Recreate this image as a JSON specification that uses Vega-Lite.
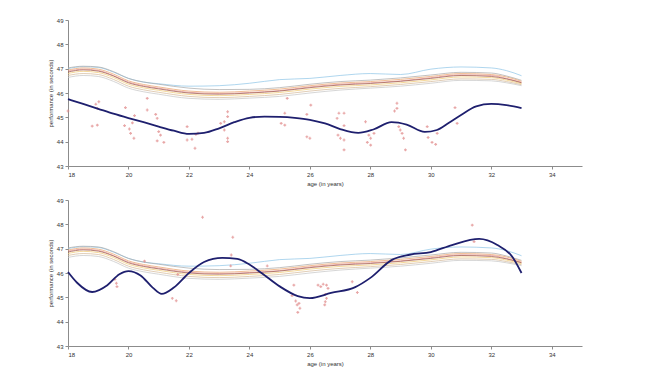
{
  "$schema": "https://vega.github.io/schema/vega-lite/v6.json",
  "background": "white",
  "padding": {"left": 47, "top": 17, "right": 5, "bottom": 5},
  "bounds": "flush",
  "spacing": 34,
  "datasets": {
    "band": [
      {"curve":"L","age":18,"val":47.0},{"curve":"L","age":18.5,"val":47.08},{"curve":"L","age":19,"val":47.05},{"curve":"L","age":19.5,"val":46.86},{"curve":"L","age":20,"val":46.6},{"curve":"L","age":20.5,"val":46.45},{"curve":"L","age":21,"val":46.38},{"curve":"L","age":22,"val":46.28},{"curve":"L","age":23,"val":46.3},{"curve":"L","age":24,"val":46.4},{"curve":"L","age":25,"val":46.55},{"curve":"L","age":26,"val":46.6},{"curve":"L","age":27,"val":46.72},{"curve":"L","age":28,"val":46.8},{"curve":"L","age":29,"val":46.76},{"curve":"L","age":30,"val":46.98},{"curve":"L","age":31,"val":47.07},{"curve":"L","age":32,"val":47.03},{"curve":"L","age":32.5,"val":46.92},{"curve":"L","age":33,"val":46.71},
      {"curve":"A","age":18,"val":47.03},{"curve":"A","age":18.5,"val":47.1},{"curve":"A","age":19,"val":47.07},{"curve":"A","age":19.5,"val":46.88},{"curve":"A","age":20,"val":46.6},{"curve":"A","age":20.5,"val":46.45},{"curve":"A","age":21,"val":46.36},{"curve":"A","age":22,"val":46.2},{"curve":"A","age":23,"val":46.14},{"curve":"A","age":24,"val":46.15},{"curve":"A","age":25,"val":46.22},{"curve":"A","age":26,"val":46.36},{"curve":"A","age":27,"val":46.47},{"curve":"A","age":28,"val":46.53},{"curve":"A","age":29,"val":46.62},{"curve":"A","age":30,"val":46.74},{"curve":"A","age":31,"val":46.85},{"curve":"A","age":32,"val":46.82},{"curve":"A","age":32.5,"val":46.7},{"curve":"A","age":33,"val":46.52},
      {"curve":"B","age":18,"val":46.94},{"curve":"B","age":18.5,"val":47.03},{"curve":"B","age":19,"val":46.98},{"curve":"B","age":19.5,"val":46.78},{"curve":"B","age":20,"val":46.5},{"curve":"B","age":20.5,"val":46.35},{"curve":"B","age":21,"val":46.25},{"curve":"B","age":22,"val":46.08},{"curve":"B","age":23,"val":46.03},{"curve":"B","age":24,"val":46.08},{"curve":"B","age":25,"val":46.16},{"curve":"B","age":26,"val":46.3},{"curve":"B","age":27,"val":46.41},{"curve":"B","age":28,"val":46.47},{"curve":"B","age":29,"val":46.56},{"curve":"B","age":30,"val":46.68},{"curve":"B","age":31,"val":46.8},{"curve":"B","age":32,"val":46.76},{"curve":"B","age":32.5,"val":46.66},{"curve":"B","age":33,"val":46.48},
      {"curve":"E","age":18,"val":46.8},{"curve":"E","age":18.5,"val":46.89},{"curve":"E","age":19,"val":46.84},{"curve":"E","age":19.5,"val":46.64},{"curve":"E","age":20,"val":46.36},{"curve":"E","age":20.5,"val":46.21},{"curve":"E","age":21,"val":46.11},{"curve":"E","age":22,"val":45.94},{"curve":"E","age":23,"val":45.89},{"curve":"E","age":24,"val":45.94},{"curve":"E","age":25,"val":46.02},{"curve":"E","age":26,"val":46.16},{"curve":"E","age":27,"val":46.27},{"curve":"E","age":28,"val":46.33},{"curve":"E","age":29,"val":46.42},{"curve":"E","age":30,"val":46.54},{"curve":"E","age":31,"val":46.66},{"curve":"E","age":32,"val":46.63},{"curve":"E","age":32.5,"val":46.53},{"curve":"E","age":33,"val":46.38},
      {"curve":"F","age":18,"val":46.9},{"curve":"F","age":18.5,"val":46.98},{"curve":"F","age":19,"val":46.93},{"curve":"F","age":19.5,"val":46.72},{"curve":"F","age":20,"val":46.45},{"curve":"F","age":20.5,"val":46.3},{"curve":"F","age":21,"val":46.2},{"curve":"F","age":22,"val":46.03},{"curve":"F","age":23,"val":45.98},{"curve":"F","age":24,"val":46.02},{"curve":"F","age":25,"val":46.1},{"curve":"F","age":26,"val":46.25},{"curve":"F","age":27,"val":46.36},{"curve":"F","age":28,"val":46.42},{"curve":"F","age":29,"val":46.5},{"curve":"F","age":30,"val":46.63},{"curve":"F","age":31,"val":46.75},{"curve":"F","age":32,"val":46.72},{"curve":"F","age":32.5,"val":46.6},{"curve":"F","age":33,"val":46.44},
      {"curve":"G","age":18,"val":46.72},{"curve":"G","age":18.5,"val":46.8},{"curve":"G","age":19,"val":46.76},{"curve":"G","age":19.5,"val":46.56},{"curve":"G","age":20,"val":46.28},{"curve":"G","age":20.5,"val":46.13},{"curve":"G","age":21,"val":46.03},{"curve":"G","age":22,"val":45.86},{"curve":"G","age":23,"val":45.81},{"curve":"G","age":24,"val":45.86},{"curve":"G","age":25,"val":45.94},{"curve":"G","age":26,"val":46.08},{"curve":"G","age":27,"val":46.19},{"curve":"G","age":28,"val":46.26},{"curve":"G","age":29,"val":46.35},{"curve":"G","age":30,"val":46.47},{"curve":"G","age":31,"val":46.58},{"curve":"G","age":32,"val":46.56},{"curve":"G","age":32.5,"val":46.47},{"curve":"G","age":33,"val":46.34},
      {"curve":"H","age":18,"val":46.64},{"curve":"H","age":18.5,"val":46.72},{"curve":"H","age":19,"val":46.68},{"curve":"H","age":19.5,"val":46.48},{"curve":"H","age":20,"val":46.2},{"curve":"H","age":20.5,"val":46.05},{"curve":"H","age":21,"val":45.95},{"curve":"H","age":22,"val":45.78},{"curve":"H","age":23,"val":45.74},{"curve":"H","age":24,"val":45.79},{"curve":"H","age":25,"val":45.86},{"curve":"H","age":26,"val":46.0},{"curve":"H","age":27,"val":46.12},{"curve":"H","age":28,"val":46.2},{"curve":"H","age":29,"val":46.28},{"curve":"H","age":30,"val":46.4},{"curve":"H","age":31,"val":46.52},{"curve":"H","age":32,"val":46.5},{"curve":"H","age":32.5,"val":46.42},{"curve":"H","age":33,"val":46.3},
      {"curve":"D","age":18,"val":46.86},{"curve":"D","age":18.5,"val":46.95},{"curve":"D","age":19,"val":46.9},{"curve":"D","age":19.5,"val":46.7},{"curve":"D","age":20,"val":46.42},{"curve":"D","age":20.5,"val":46.27},{"curve":"D","age":21,"val":46.17},{"curve":"D","age":22,"val":46.0},{"curve":"D","age":23,"val":45.95},{"curve":"D","age":24,"val":46.0},{"curve":"D","age":25,"val":46.08},{"curve":"D","age":26,"val":46.22},{"curve":"D","age":27,"val":46.33},{"curve":"D","age":28,"val":46.39},{"curve":"D","age":29,"val":46.48},{"curve":"D","age":30,"val":46.6},{"curve":"D","age":31,"val":46.72},{"curve":"D","age":32,"val":46.68},{"curve":"D","age":32.5,"val":46.58},{"curve":"D","age":33,"val":46.42}
    ],
    "navy": [
      {"panel":1,"age":18,"val":45.75},{"panel":1,"age":18.5,"val":45.55},{"panel":1,"age":19,"val":45.35},{"panel":1,"age":19.5,"val":45.15},{"panel":1,"age":20,"val":44.97},{"panel":1,"age":20.5,"val":44.8},{"panel":1,"age":21,"val":44.62},{"panel":1,"age":21.5,"val":44.45},{"panel":1,"age":22,"val":44.32},{"panel":1,"age":22.5,"val":44.36},{"panel":1,"age":23,"val":44.55},{"panel":1,"age":23.5,"val":44.8},{"panel":1,"age":24,"val":44.98},{"panel":1,"age":24.5,"val":45.03},{"panel":1,"age":25,"val":45.02},{"panel":1,"age":25.5,"val":44.98},{"panel":1,"age":26,"val":44.9},{"panel":1,"age":26.5,"val":44.75},{"panel":1,"age":27,"val":44.52},{"panel":1,"age":27.6,"val":44.36},{"panel":1,"age":28.1,"val":44.5},{"panel":1,"age":28.7,"val":44.8},{"panel":1,"age":29.2,"val":44.7},{"panel":1,"age":29.8,"val":44.4},{"panel":1,"age":30.2,"val":44.48},{"panel":1,"age":30.6,"val":44.78},{"panel":1,"age":31,"val":45.1},{"panel":1,"age":31.5,"val":45.45},{"panel":1,"age":32,"val":45.55},{"panel":1,"age":32.5,"val":45.5},{"panel":1,"age":33,"val":45.38},
      {"panel":2,"age":18,"val":46.04},{"panel":2,"age":18.3,"val":45.6},{"panel":2,"age":18.8,"val":45.22},{"panel":2,"age":19.3,"val":45.5},{"panel":2,"age":19.7,"val":45.95},{"panel":2,"age":20,"val":46.08},{"panel":2,"age":20.4,"val":45.9},{"panel":2,"age":20.8,"val":45.4},{"panel":2,"age":21.1,"val":45.14},{"panel":2,"age":21.5,"val":45.4},{"panel":2,"age":22,"val":46.0},{"panel":2,"age":22.5,"val":46.45},{"panel":2,"age":23.1,"val":46.62},{"panel":2,"age":23.6,"val":46.58},{"panel":2,"age":24,"val":46.35},{"panel":2,"age":24.4,"val":46.0},{"panel":2,"age":25,"val":45.45},{"panel":2,"age":25.6,"val":45.05},{"panel":2,"age":26,"val":44.97},{"panel":2,"age":26.7,"val":45.18},{"panel":2,"age":27.5,"val":45.42},{"panel":2,"age":28,"val":45.8},{"panel":2,"age":28.7,"val":46.53},{"panel":2,"age":29.3,"val":46.75},{"panel":2,"age":30,"val":46.86},{"panel":2,"age":30.7,"val":47.15},{"panel":2,"age":31.6,"val":47.4},{"panel":2,"age":32.2,"val":47.15},{"panel":2,"age":32.7,"val":46.66},{"panel":2,"age":33,"val":46.0}
    ],
    "pts": [
      {"panel":1,"age":18.0,"val":45.26},{"panel":1,"age":18.92,"val":45.54},{"panel":1,"age":19.02,"val":45.64},{"panel":1,"age":18.97,"val":45.37},{"panel":1,"age":18.8,"val":44.64},{"panel":1,"age":18.97,"val":44.68},
      {"panel":1,"age":19.9,"val":45.4},{"panel":1,"age":20.2,"val":45.07},{"panel":1,"age":19.87,"val":44.66},{"panel":1,"age":20.03,"val":44.52},{"panel":1,"age":20.13,"val":44.77},{"panel":1,"age":20.07,"val":44.34},{"panel":1,"age":20.18,"val":44.14},
      {"panel":1,"age":20.62,"val":45.78},{"panel":1,"age":20.62,"val":45.3},{"panel":1,"age":20.9,"val":45.12},{"panel":1,"age":20.95,"val":44.96},{"panel":1,"age":21.0,"val":44.41},{"panel":1,"age":21.06,"val":44.27},{"panel":1,"age":20.95,"val":44.03},{"panel":1,"age":21.17,"val":43.97},
      {"panel":1,"age":21.94,"val":44.62},{"panel":1,"age":21.94,"val":44.07},{"panel":1,"age":22.1,"val":44.1},{"panel":1,"age":22.2,"val":43.73},{"panel":1,"age":22.23,"val":44.3},{"panel":1,"age":22.3,"val":44.35},
      {"panel":1,"age":23.05,"val":44.75},{"panel":1,"age":23.17,"val":44.82},{"panel":1,"age":23.17,"val":44.48},{"panel":1,"age":23.28,"val":45.23},{"panel":1,"age":23.28,"val":45.03},{"panel":1,"age":23.28,"val":44.14},{"panel":1,"age":23.28,"val":44.0},
      {"panel":1,"age":25.05,"val":44.75},{"panel":1,"age":25.17,"val":44.68},{"panel":1,"age":25.25,"val":45.78},{"panel":1,"age":25.17,"val":45.17},
      {"panel":1,"age":25.9,"val":45.12},{"panel":1,"age":26.03,"val":45.5},{"panel":1,"age":25.9,"val":44.2},{"panel":1,"age":26.0,"val":44.14},
      {"panel":1,"age":26.96,"val":45.17},{"panel":1,"age":27.13,"val":45.17},{"panel":1,"age":26.9,"val":44.96},{"panel":1,"age":27.13,"val":44.66},{"panel":1,"age":26.93,"val":44.27},{"panel":1,"age":27.01,"val":44.14},{"panel":1,"age":27.13,"val":44.07},{"panel":1,"age":27.13,"val":43.66},
      {"panel":1,"age":27.84,"val":44.82},{"panel":1,"age":27.95,"val":44.27},{"panel":1,"age":28.01,"val":44.14},{"panel":1,"age":27.9,"val":43.97},{"panel":1,"age":28.01,"val":43.86},{"panel":1,"age":28.12,"val":44.34},
      {"panel":1,"age":28.88,"val":45.58},{"panel":1,"age":28.88,"val":45.37},{"panel":1,"age":28.8,"val":45.26},{"panel":1,"age":28.94,"val":44.62},{"panel":1,"age":28.99,"val":44.48},{"panel":1,"age":29.05,"val":44.34},{"panel":1,"age":29.1,"val":44.14},{"panel":1,"age":29.16,"val":43.66},
      {"panel":1,"age":29.88,"val":44.62},{"panel":1,"age":29.91,"val":44.17},{"panel":1,"age":30.04,"val":43.97},{"panel":1,"age":30.16,"val":43.89},{"panel":1,"age":30.21,"val":44.34},
      {"panel":1,"age":30.8,"val":45.4},{"panel":1,"age":30.87,"val":44.75},
      {"panel":2,"age":22.45,"val":48.29},{"panel":2,"age":23.45,"val":47.47},{"panel":2,"age":20.53,"val":46.49},{"panel":2,"age":23.4,"val":46.74},{"panel":2,"age":23.38,"val":46.29},{"panel":2,"age":24.59,"val":46.29},
      {"panel":2,"age":19.55,"val":45.74},{"panel":2,"age":19.6,"val":45.58},{"panel":2,"age":19.62,"val":45.44},{"panel":2,"age":21.63,"val":45.94},{"panel":2,"age":21.45,"val":44.96},{"panel":2,"age":21.58,"val":44.86},
      {"panel":2,"age":25.47,"val":45.5},{"panel":2,"age":25.41,"val":45.07},{"panel":2,"age":25.53,"val":44.85},{"panel":2,"age":25.58,"val":44.69},{"panel":2,"age":25.64,"val":44.75},{"panel":2,"age":25.67,"val":44.55},{"panel":2,"age":25.6,"val":44.38},
      {"panel":2,"age":26.27,"val":45.5},{"panel":2,"age":26.44,"val":45.54},{"panel":2,"age":26.36,"val":45.44},{"panel":2,"age":26.55,"val":45.5},{"panel":2,"age":26.6,"val":45.37},{"panel":2,"age":26.51,"val":45.12},{"panel":2,"age":26.55,"val":44.96},{"panel":2,"age":26.51,"val":44.82},{"panel":2,"age":26.49,"val":44.69},
      {"panel":2,"age":27.4,"val":45.64},{"panel":2,"age":27.57,"val":45.2},{"panel":2,"age":31.37,"val":47.97},{"panel":2,"age":31.43,"val":47.29}
    ]
  },
  "vconcat": [
    {
      "width": 514, "height": 146,
      "encoding": {
        "x": {"field": "age", "type": "quantitative", "title": "age (in years)", "scale": {"domain": [18, 35], "nice": false, "zero": false}, "axis": {"values": [18,20,22,24,26,28,30,32,34]}},
        "y": {"field": "val", "type": "quantitative", "title": "performance (in seconds)", "scale": {"domain": [43, 49], "nice": false, "zero": false}, "axis": {"values": [43,44,45,46,47,48,49]}}
      },
      "layer": [
        {
          "data": {"name": "band"},
          "mark": {"type": "line", "interpolate": "monotone", "strokeWidth": 0.7},
          "encoding": {
            "color": {"field": "curve", "type": "nominal", "legend": null, "scale": {"domain": ["L","A","B","E","F","G","H","D"], "range": ["#8cc4e6","#a8a8a8","#eba066","#f0c870","#e49090","#d4b896","#c4c4c4","#9a5040"]}},
            "strokeWidth": {"condition": {"test": "datum.curve == 'D'", "value": 1.0}, "value": 0.7}
          }
        },
        {
          "data": {"name": "pts"},
          "transform": [{"filter": "datum.panel == 1"}],
          "mark": {"type": "point", "shape": "cross", "size": 8, "filled": true, "color": "#e08a8a", "opacity": 0.75}
        },
        {
          "data": {"name": "navy"},
          "transform": [{"filter": "datum.panel == 1"}],
          "mark": {"type": "line", "interpolate": "monotone", "strokeWidth": 1.8, "color": "#1e1f6e"}
        }
      ]
    },
    {
      "width": 514, "height": 146,
      "encoding": {
        "x": {"field": "age", "type": "quantitative", "title": "age (in years)", "scale": {"domain": [18, 35], "nice": false, "zero": false}, "axis": {"values": [18,20,22,24,26,28,30,32,34]}},
        "y": {"field": "val", "type": "quantitative", "title": "performance (in seconds)", "scale": {"domain": [43, 49], "nice": false, "zero": false}, "axis": {"values": [43,44,45,46,47,48,49]}}
      },
      "layer": [
        {
          "data": {"name": "band"},
          "mark": {"type": "line", "interpolate": "monotone", "strokeWidth": 0.7},
          "encoding": {
            "color": {"field": "curve", "type": "nominal", "legend": null, "scale": {"domain": ["L","A","B","E","F","G","H","D"], "range": ["#8cc4e6","#a8a8a8","#eba066","#f0c870","#e49090","#d4b896","#c4c4c4","#9a5040"]}},
            "strokeWidth": {"condition": {"test": "datum.curve == 'D'", "value": 1.0}, "value": 0.7}
          }
        },
        {
          "data": {"name": "pts"},
          "transform": [{"filter": "datum.panel == 2"}],
          "mark": {"type": "point", "shape": "cross", "size": 8, "filled": true, "color": "#e08a8a", "opacity": 0.75}
        },
        {
          "data": {"name": "navy"},
          "transform": [{"filter": "datum.panel == 2"}],
          "mark": {"type": "line", "interpolate": "monotone", "strokeWidth": 1.8, "color": "#1e1f6e"}
        }
      ]
    }
  ],
  "config": {
    "view": {"stroke": null},
    "axis": {
      "grid": false,
      "labelOverlap": false,
      "labelFont": "Liberation Sans", "titleFont": "Liberation Sans",
      "labelFontSize": 6, "titleFontSize": 6, "titleFontWeight": "normal",
      "labelColor": "#333333", "titleColor": "#333333",
      "domainColor": "#8c8c8c", "tickColor": "#8c8c8c", "tickSize": 3,
      "labelPadding": 2, "titlePadding": 3
    }
  }
}
